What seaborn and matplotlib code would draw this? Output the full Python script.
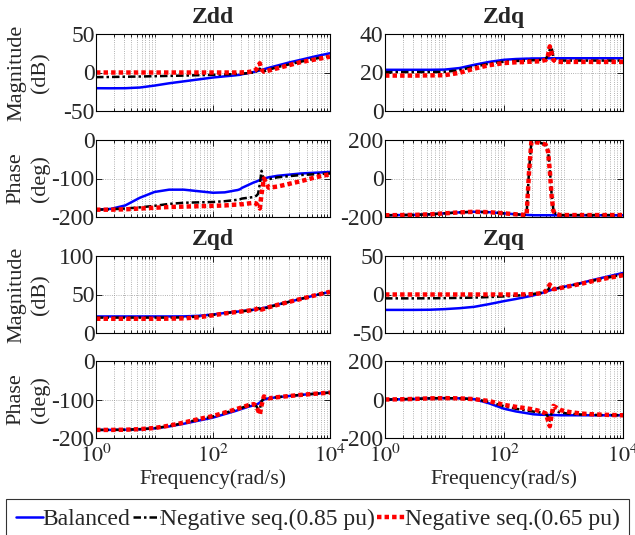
import numpy as np
import matplotlib
matplotlib.use("Agg")
import matplotlib.pyplot as plt
import matplotlib.ticker as mticker
import seaborn as sns

logw = [0.0, 0.25, 0.5, 0.75, 1.0, 1.25, 1.5, 1.75, 2.0, 2.2, 2.38, 2.42, 2.46, 2.5,
        2.6, 2.7, 2.74, 2.77, 2.8, 2.83, 2.87, 2.95, 3.1, 3.3, 3.5, 3.75, 4.0]

# Zdd
zdd_mag_bal = [-20.4, -20.5, -20.4, -19.5, -17, -14, -11.5, -9, -6.5, -5, -3.7, -3.3, -3, -2.2,
               -0.8, 0.8, 1.5, 2.1, 2.7, 3.3, 4.2, 6, 9, 13, 16.5, 21, 25]
zdd_mag_n85 = [-6, -5.8, -5.5, -5.2, -4.8, -4.4, -4, -3.5, -3, -2.5, -2, -1.9, -1.8, -1.5,
               -0.8, 0, 1.5, 4, 5, 1.5, 1.5, 3.5, 7, 10.5, 14, 18, 21.5]
zdd_mag_n65 = [0, 0, 0, 0, 0, 0, 0, 0, 0, 0, 0, 0, 0, 0.2,
               0.5, 2, 4, 8, 12, 4, 1, 2.5, 5.5, 9.5, 13.5, 17, 20.5]
zdd_ph_bal = [-181, -179, -170, -150, -135, -129, -129, -133, -137, -136, -131, -130, -128, -124,
              -117, -110, -108, -106, -104, -102, -100, -97, -93, -90, -87, -85, -83]
zdd_ph_n85 = [-181, -180, -178, -175, -171, -166, -163, -162, -161, -159, -156, -155, -154, -152,
              -150, -148, -145, -140, -115, -80, -104, -102, -97, -94, -91, -89, -87]
zdd_ph_n65 = [-181, -181, -180, -178, -176, -174, -173, -172, -171, -170, -168, -168, -167, -167,
              -165, -163, -165, -172, -178, -140, -100, -124, -121, -114, -107, -97, -89]

# Zdq
zdq_mag_bal = [21.4, 21.4, 21.4, 21.4, 21.5, 22.3, 24, 25.5, 26.6, 27, 27.2, 27.2, 27.3, 27.3,
               27.3, 27.4, 27.4, 27.4, 27.4, 27.4, 27.4, 27.4, 27.4, 27.4, 27.4, 27.4, 27.4]
zdq_mag_n85 = [20.2, 20.2, 20.2, 20.2, 20.3, 21.2, 23, 24.6, 25.6, 26, 26.2, 26.3, 26.3, 26.4,
               26.5, 27, 29, 32, 33, 28, 26.3, 26.2, 26.2, 26.2, 26.2, 26.2, 26.2]
zdq_mag_n65 = [18.4, 18.4, 18.4, 18.5, 18.6, 19.8, 22, 23.8, 24.9, 25.3, 25.5, 25.6, 25.6, 25.7,
               25.8, 26.5, 29, 33.6, 30, 26.5, 25.6, 25.5, 25.5, 25.5, 25.5, 25.5, 25.5]
zdq_ph_bal = [-191, -190, -189, -186, -181, -176, -173, -175, -181, -186, -189, -190, -190, -191,
              -191, -191, -191, -191, -191, -191, -191, -191, -191, -191, -191, -191, -191]
zdq_ph_n85 = [-191, -190, -189, -186, -181, -176, -173, -175, -181, -186, -190, 40, 190, 189,
              186, 177, 145, 50, -80, -165, -184, -190, -190, -190, -190, -190, -190]
zdq_ph_n65 = [-191, -190, -189, -186, -181, -176, -173, -175, -181, -186, -190, 30, 190, 189,
              186, 176, 140, 40, -90, -170, -185, -190, -190, -190, -190, -190, -190]

# Zqd
zqd_mag_bal = [21.5, 21.5, 21.5, 21.5, 21.5, 21.5, 21.6, 22.3, 24, 26, 27.5, 27.8, 28.1, 28.5,
               29.3, 30.3, 30.7, 31.1, 31.5, 32, 32.6, 34, 36.8, 40.5, 44.3, 49, 53.5]
zqd_mag_n85 = [20, 20, 20, 20, 20, 20, 20.3, 21.3, 23.5, 25.7, 27.3, 27.6, 27.9, 28.3,
               29.1, 30.2, 30.8, 32.2, 31.3, 30.8, 31.6, 33.5, 36.6, 40.5, 44.3, 49, 53.5]
zqd_mag_n65 = [18.5, 18.5, 18.5, 18.5, 18.5, 18.6, 19, 20.4, 23, 25.4, 27.1, 27.4, 27.7, 28.1,
               29, 30.1, 30.9, 32.8, 31.2, 30.4, 31.4, 33.4, 36.5, 40.4, 44.2, 49, 53.5]
zqd_ph_bal = [-179, -179, -178.5, -177.5, -175, -170, -163, -155, -147, -138, -130, -128, -126, -124,
              -119, -115, -113, -111, -108, -104, -100, -97, -94, -91, -88, -85, -82]
zqd_ph_n85 = [-179, -179, -178.5, -177, -174.5, -169, -161, -152, -144, -135, -127, -125, -123, -121,
              -116, -113, -117, -125, -125, -105, -96, -97, -94, -91, -88, -85, -82]
zqd_ph_n65 = [-179, -179, -178.5, -177, -174, -168, -160, -151, -143, -134, -126, -124, -122, -120,
              -115, -112, -118, -128, -139, -115, -92, -97, -94, -91, -88, -85, -82]

# Zqq
zqq_mag_bal = [-20, -20, -20, -19.8, -19, -17.8, -16, -12.5, -8.6, -5.8, -3, -2.4, -1.8, -1,
               1, 3.5, 4.5, 5.3, 6, 6.7, 7.5, 9, 11.5, 15, 19, 23.5, 28]
zqq_mag_n85 = [-5, -5, -5, -4.9, -4.7, -4.4, -4, -3.3, -2.5, -1.5, -0.5, 0, 0.3, 0.8,
               2, 3.5, 6, 10, 8, 7, 7.5, 9, 11.2, 14.5, 18, 22, 26]
zqq_mag_n65 = [0, 0, 0, 0, 0, 0, 0, 0, 0, 0, 0.2, 0.3, 0.4, 0.5,
               1.5, 4, 9, 13, 9, 7, 7.3, 8.5, 10.8, 14, 17.5, 21.5, 25]
zqq_ph_bal = [0, 1, 3, 6, 7, 6, 2, -20, -48, -62, -71, -73, -75, -77,
              -79, -80, -80, -81, -81, -81, -81, -82, -82, -82, -82, -82, -82]
zqq_ph_n85 = [0, 1, 3, 6, 7, 6, 2, -12, -35, -48, -57, -59, -61, -63,
              -67, -72, -90, -110, -70, -55, -60, -68, -74, -78, -80, -81, -82]
zqq_ph_n65 = [0, 1, 3, 6, 7, 6, 2, -8, -28, -38, -46, -48, -50, -52,
              -60, -72, -110, -139, -80, -33, -40, -55, -65, -73, -77, -80, -82]

legend_labels = ["Balanced", "Negative seq.(0.85 pu)", "Negative seq.(0.65 pu)"]

# -----------------------
# Style
# -----------------------
sns.set_theme(style="ticks")
plt.rcParams["font.family"] = ["Liberation Serif", "DejaVu Serif"]
plt.rcParams["mathtext.fontset"] = "stix"
plt.rcParams["axes.linewidth"] = 0.8

freq = 10 ** np.array(logw)

series_style = [
    dict(color="#0000ff", linewidth=1.8, linestyle="-"),
    dict(color="black", linewidth=1.8, linestyle=(0, (3, 1.2, 1, 1.2))),
    dict(color="red", linewidth=3.2, linestyle=(0, (1, 0.7))),
]

fig = plt.figure(figsize=(6.35, 5.35), dpi=100)

W, H = 635, 535
col_x = [(96, 330), (385, 623)]
row_y = [(34, 111), (140, 217), (256, 333), (361, 438)]


def make_ax(col, row):
    x0, x1 = col_x[col]
    y0, y1 = row_y[row]
    return fig.add_axes([x0 / W, 1 - y1 / H, (x1 - x0) / W, (y1 - y0) / H])


panels = [
    # col, row, data, ylim, yticks, title, ylabel
    (0, 0, (zdd_mag_bal, zdd_mag_n85, zdd_mag_n65), (-50, 50), [-50, 0, 50], "Zdd", "Magnitude\n(dB)"),
    (0, 1, (zdd_ph_bal, zdd_ph_n85, zdd_ph_n65), (-200, 0), [-200, -100, 0], None, "Phase\n(deg)"),
    (1, 0, (zdq_mag_bal, zdq_mag_n85, zdq_mag_n65), (0, 40), [0, 20, 40], "Zdq", None),
    (1, 1, (zdq_ph_bal, zdq_ph_n85, zdq_ph_n65), (-200, 200), [-200, 0, 200], None, None),
    (0, 2, (zqd_mag_bal, zqd_mag_n85, zqd_mag_n65), (0, 100), [0, 50, 100], "Zqd", "Magnitude\n(dB)"),
    (0, 3, (zqd_ph_bal, zqd_ph_n85, zqd_ph_n65), (-200, 0), [-200, -100, 0], None, "Phase\n(deg)"),
    (1, 2, (zqq_mag_bal, zqq_mag_n85, zqq_mag_n65), (-50, 50), [-50, 0, 50], "Zqq", None),
    (1, 3, (zqq_ph_bal, zqq_ph_n85, zqq_ph_n65), (-200, 200), [-200, 0, 200], None, None),
]

minor_pos = [k * 10 ** n for n in range(4) for k in range(1, 10) if not (k == 1 and n % 2 == 0)]

for col, row, data, ylim, yticks, title, ylabel in panels:
    ax = make_ax(col, row)
    for vals, st in zip(data, series_style):
        sns.lineplot(x=freq, y=vals, ax=ax, errorbar=None, legend=False, **st)
    ax.set_xscale("log")
    ax.set_xlim(1, 1e4)
    ax.set_ylim(*ylim)
    ax.set_yticks(yticks)
    ax.set_yticklabels([str(t) for t in yticks], fontsize=17)
    ax.xaxis.set_major_locator(mticker.FixedLocator([1, 1e2, 1e4]))
    ax.xaxis.set_minor_locator(mticker.FixedLocator(minor_pos))
    ax.xaxis.set_minor_formatter(mticker.NullFormatter())
    if row == 3:
        ax.xaxis.set_major_formatter(mticker.FixedFormatter(["$10^{0}$", "$10^{2}$", "$10^{4}$"]))
        ax.set_xlabel("Frequency(rad/s)", fontsize=15.5, labelpad=1)
    else:
        ax.xaxis.set_major_formatter(mticker.NullFormatter())
        ax.set_xlabel("")
    ax.tick_params(axis="x", which="major", labelsize=16, pad=5)
    ax.tick_params(axis="both", which="both", direction="in", top=True, right=True,
                   color="black", width=0.6)
    ax.tick_params(axis="both", which="major", length=4)
    ax.tick_params(axis="x", which="minor", length=2)
    ax.tick_params(axis="y", pad=1)
    ax.grid(True, axis="x", which="both", linestyle=":", color="0.6", linewidth=0.6)
    ax.grid(True, axis="y", which="major", linestyle=":", color="0.6", linewidth=0.6)
    for sp in ax.spines.values():
        sp.set_color("black")
        sp.set_linewidth(0.8)
    if title:
        ax.set_title(title, fontsize=17, fontweight="bold", pad=8)
    if ylabel:
        ax.set_ylabel(ylabel, fontsize=16, linespacing=1.3)
        ax.yaxis.set_label_coords(-46 / 234, 0.5)
    else:
        ax.set_ylabel("")
    if col == 0 and row == 0:
        handles = ax.lines[:3]

leg = fig.legend(handles, legend_labels, loc="upper center", bbox_to_anchor=(0.5, 1 - 499 / H),
                 ncol=3, fontsize=17, frameon=True, fancybox=False, edgecolor="black",
                 handlelength=1.15, handletextpad=0.0, columnspacing=0.1, borderpad=0.4,
                 borderaxespad=0)
leg.get_frame().set_linewidth(0.8)

fig.savefig("out.png", dpi=100)
